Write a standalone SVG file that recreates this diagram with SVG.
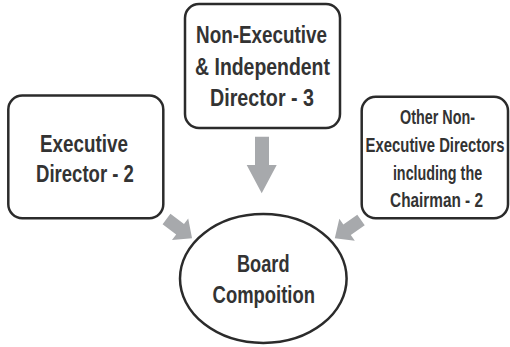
<svg xmlns="http://www.w3.org/2000/svg" width="510" height="347" viewBox="0 0 510 347">
<style>
.box{fill:#fff;stroke:#2b2b2b;stroke-width:2.5}
.t{font-family:"Liberation Sans","Arimo",Arial,sans-serif;font-weight:bold;font-size:23px;fill:#333;text-anchor:middle}
.s{font-size:19.5px}
.arr{fill:#a7a9ac}
</style>
<defs>
<path id="ah" d="M0,-6.5 H17 V-13.5 L32,0 L17,13.5 V6.5 H0 Z"/>
</defs>
<rect width="510" height="347" fill="#fff"/>
<g id="connectors">
<path class="arr" d="M255,136.7 H269 V165 H276.7 L261.7,193.3 L246.7,165 H255 Z"/>
<use href="#ah" class="arr" transform="translate(166.5,219) rotate(37)"/>
<use href="#ah" class="arr" transform="translate(361,220) rotate(145)"/>
</g>
<g id="exec">
<rect class="box" x="8.3" y="95.5" width="155" height="122.8" rx="14"/>
<text class="t" transform="translate(84,152) scale(0.819,1)">Executive</text>
<text class="t" transform="translate(85,182) scale(0.807,1)">Director - 2</text>
</g>
<g id="nonexec">
<rect class="box" x="185" y="4" width="155" height="124" rx="14"/>
<text class="t" transform="translate(261.5,43) scale(0.82,1)">Non-Executive</text>
<text class="t" transform="translate(262.5,74.5) scale(0.845,1)">&amp; Independent</text>
<text class="t" transform="translate(262,106) scale(0.857,1)">Director - 3</text>
</g>
<g id="other">
<rect class="box" x="361.7" y="96.7" width="146.3" height="121.6" rx="14"/>
<text class="t s" transform="translate(437.5,124.3) scale(0.737,1)">Other Non-</text>
<text class="t s" transform="translate(435,152.3) scale(0.763,1)">Executive Directors</text>
<text class="t s" transform="translate(437.5,180) scale(0.736,1)">including the</text>
<text class="t s" transform="translate(436.5,207.3) scale(0.787,1)">Chairman - 2</text>
</g>
<g id="board">
<ellipse class="box" cx="263.3" cy="278.5" rx="83.3" ry="64.5"/>
<text class="t" transform="translate(263.25,271.7) scale(0.79,1)">Board</text>
<text class="t" transform="translate(263.75,303.3) scale(0.802,1)">Compoition</text>
</g>
</svg>
